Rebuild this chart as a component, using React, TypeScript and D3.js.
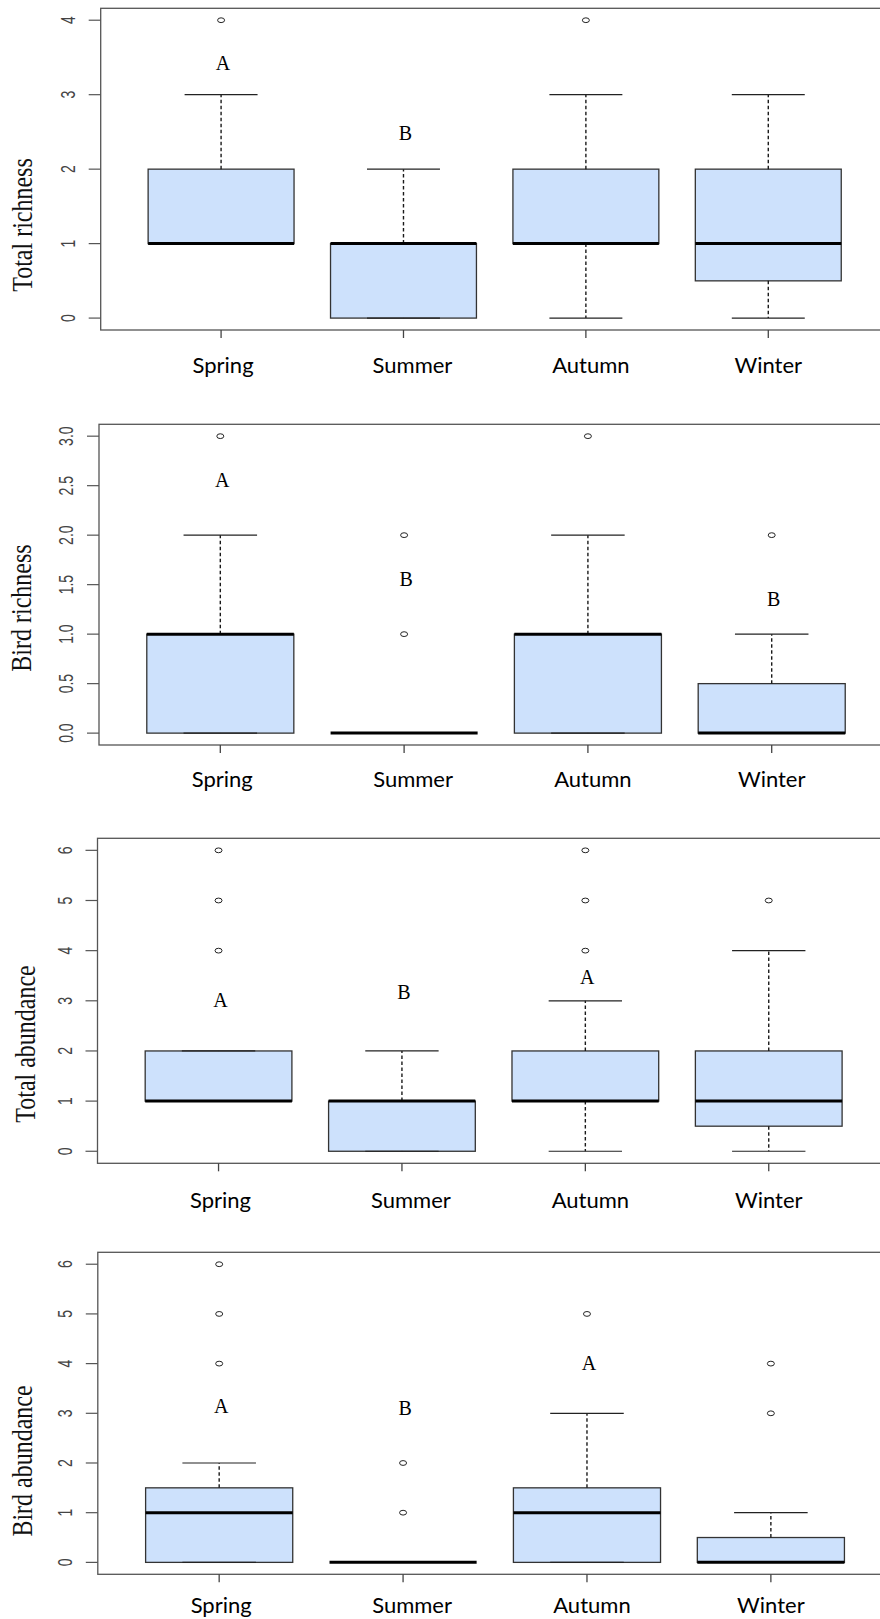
import React from "react";
import * as d3 from "d3";

const seasons = ["Spring", "Summer", "Autumn", "Winter"];

// box stats per season: lower whisker, Q1, median, Q3, upper whisker, outliers
const totalRichness = [
  { lo: 1, q1: 1, med: 1, q3: 2, hi: 3, out: [4] },
  { lo: 0, q1: 0, med: 1, q3: 1, hi: 2, out: [] },
  { lo: 0, q1: 1, med: 1, q3: 2, hi: 3, out: [4] },
  { lo: 0, q1: 0.5, med: 1, q3: 2, hi: 3, out: [] },
];
const birdRichness = [
  { lo: 0, q1: 0, med: 1, q3: 1, hi: 2, out: [3] },
  { lo: 0, q1: 0, med: 0, q3: 0, hi: 0, out: [1, 2] },
  { lo: 0, q1: 0, med: 1, q3: 1, hi: 2, out: [3] },
  { lo: 0, q1: 0, med: 0, q3: 0.5, hi: 1, out: [2] },
];
const totalAbundance = [
  { lo: 1, q1: 1, med: 1, q3: 2, hi: 2, out: [4, 5, 6] },
  { lo: 0, q1: 0, med: 1, q3: 1, hi: 2, out: [] },
  { lo: 0, q1: 1, med: 1, q3: 2, hi: 3, out: [4, 5, 6] },
  { lo: 0, q1: 0.5, med: 1, q3: 2, hi: 4, out: [5] },
];
const birdAbundance = [
  { lo: 0, q1: 0, med: 1, q3: 1.5, hi: 2, out: [4, 5, 6] },
  { lo: 0, q1: 0, med: 0, q3: 0, hi: 0, out: [1, 2] },
  { lo: 0, q1: 0, med: 1, q3: 1.5, hi: 3, out: [5] },
  { lo: 0, q1: 0, med: 0, q3: 0.5, hi: 1, out: [3, 4] },
];

// significance letters (value = height on the y axis)
const totalRichnessLetters = [
  { season: "Spring", label: "A", value: 3.43 },
  { season: "Summer", label: "B", value: 2.48 },
];
const birdRichnessLetters = [
  { season: "Spring", label: "A", value: 2.56 },
  { season: "Summer", label: "B", value: 1.56 },
  { season: "Winter", label: "B", value: 1.36 },
];
const totalAbundanceLetters = [
  { season: "Spring", label: "A", value: 3.02 },
  { season: "Summer", label: "B", value: 3.17 },
  { season: "Autumn", label: "A", value: 3.48 },
];
const birdAbundanceLetters = [
  { season: "Spring", label: "A", value: 3.14 },
  { season: "Summer", label: "B", value: 3.1 },
  { season: "Autumn", label: "A", value: 4.01 },
];

const countTicks = [0, 1, 2, 3, 4];
const halfTicks = [0, 0.5, 1, 1.5, 2, 2.5, 3];
const abundanceTicks = [0, 1, 2, 3, 4, 5, 6];

// page layout of each panel (pixels)
const layouts = [
  { left: 100.7, top: 8.3, bottom: 330, step: 182.4, titleY: 225, titleX: 32, labelY: 373 },
  { left: 99, top: 424.3, bottom: 745, step: 183.8, titleY: 608, titleX: 31, labelY: 787 },
  { left: 97.5, top: 838.3, bottom: 1163.3, step: 183.4, titleY: 1044, titleX: 35, labelY: 1208 },
  { left: 97.8, top: 1252.3, bottom: 1574.3, step: 183.9, titleY: 1461, titleX: 32, labelY: 1613 },
];
const labelNudge = [2, 9, 5, 0];

const fill = "#cde1fc";
const ink = "#1a1a1a";

const Panel = ({ title, boxes, letters, ticks, yMax, fmt, layout }) => {
  const { left, top, bottom, step, titleY, titleX, labelY } = layout;
  const x = d3
    .scaleBand()
    .domain(seasons)
    .range([left + 0.16 * step, left + 4.16 * step])
    .paddingInner(0.2)
    .paddingOuter(0.1);
  const y = d3
    .scaleLinear()
    .domain([-0.04 * yMax, 1.04 * yMax])
    .range([bottom, top]);
  const bw = x.bandwidth();
  const right = left + 4.32 * step;

  return (
    <g>
      {boxes.map((b, i) => {
        const s = seasons[i];
        const x0 = x(s);
        const cx = x0 + bw / 2;
        return (
          <g key={s}>
            <rect
              x={x0}
              y={y(b.q3)}
              width={bw}
              height={y(b.q1) - y(b.q3)}
              fill={fill}
              stroke="#333"
              strokeWidth={1.3}
            />
            <line x1={cx} x2={cx} y1={y(b.q3)} y2={y(b.hi)} stroke={ink} strokeWidth={1.4} strokeDasharray="3.5,2.5" />
            <line x1={cx} x2={cx} y1={y(b.q1)} y2={y(b.lo)} stroke={ink} strokeWidth={1.4} strokeDasharray="3.5,2.5" />
            <line x1={cx - bw / 4} x2={cx + bw / 4} y1={y(b.hi)} y2={y(b.hi)} stroke="#222" strokeWidth={1.2} />
            <line x1={cx - bw / 4} x2={cx + bw / 4} y1={y(b.lo)} y2={y(b.lo)} stroke="#222" strokeWidth={1.2} />
            <line x1={x0} x2={x0 + bw} y1={y(b.med)} y2={y(b.med)} stroke="#000" strokeWidth={3} />
            {b.out.map((o) => (
              <ellipse key={o} cx={cx} cy={y(o)} rx={3.5} ry={2.4} fill="none" stroke="#222" strokeWidth={1} />
            ))}
          </g>
        );
      })}

      {letters.map((l) => (
        <text
          key={l.season}
          x={x(l.season) + bw / 2 + 2}
          y={y(l.value)}
          dy="0.35em"
          textAnchor="middle"
          fontFamily="'Liberation Serif', 'Times New Roman', serif"
          fontSize={20}
          fill="#000"
        >
          {l.label}
        </text>
      ))}

      {/* frame */}
      <rect x={left} y={top} width={right - left} height={bottom - top} fill="none" stroke="#555" strokeWidth={1.3} />

      {/* y axis */}
      {ticks.map((t) => (
        <g key={t}>
          <line x1={left - 12} x2={left} y1={y(t)} y2={y(t)} stroke="#555" strokeWidth={1.2} />
          <text
            transform={`translate(${left - 26},${y(t)}) scale(1.45,1) rotate(-90)`}
            textAnchor="middle"
            fontFamily="'Liberation Sans', Arial, sans-serif"
            fontSize={14}
            fill="#444"
          >
            {fmt(t)}
          </text>
        </g>
      ))}
      <text
        transform={`translate(${titleX},${titleY}) scale(1.2,1) rotate(-90)`}
        textAnchor="middle"
        fontFamily="'Liberation Serif', 'Times New Roman', serif"
        fontSize={24}
        fill="#111"
      >
        {title}
      </text>

      {/* x axis */}
      {seasons.map((s, i) => {
        const cx = x(s) + bw / 2;
        return (
          <g key={s}>
            <line x1={cx} x2={cx} y1={bottom} y2={bottom + 8} stroke="#444" strokeWidth={1.3} />
            <text
              x={cx + labelNudge[i]}
              y={labelY}
              textAnchor="middle"
              fontFamily="Lato, 'Open Sans', sans-serif"
              fontSize={22}
              fill="#000"
            >
              {s}
            </text>
          </g>
        );
      })}
    </g>
  );
};

export default function App() {
  const intFmt = d3.format("d");
  const oneDec = d3.format(".1f");
  return (
    <svg
      width={880}
      height={1619}
      style={{ position: "absolute", left: 0, top: 0, background: "#fff" }}
    >
      <rect width={880} height={1619} fill="#fff" />
      <Panel title="Total richness" boxes={totalRichness} letters={totalRichnessLetters} ticks={countTicks} yMax={4} fmt={intFmt} layout={layouts[0]} />
      <Panel title="Bird richness" boxes={birdRichness} letters={birdRichnessLetters} ticks={halfTicks} yMax={3} fmt={oneDec} layout={layouts[1]} />
      <Panel title="Total abundance" boxes={totalAbundance} letters={totalAbundanceLetters} ticks={abundanceTicks} yMax={6} fmt={intFmt} layout={layouts[2]} />
      <Panel title="Bird abundance" boxes={birdAbundance} letters={birdAbundanceLetters} ticks={abundanceTicks} yMax={6} fmt={intFmt} layout={layouts[3]} />
    </svg>
  );
}
